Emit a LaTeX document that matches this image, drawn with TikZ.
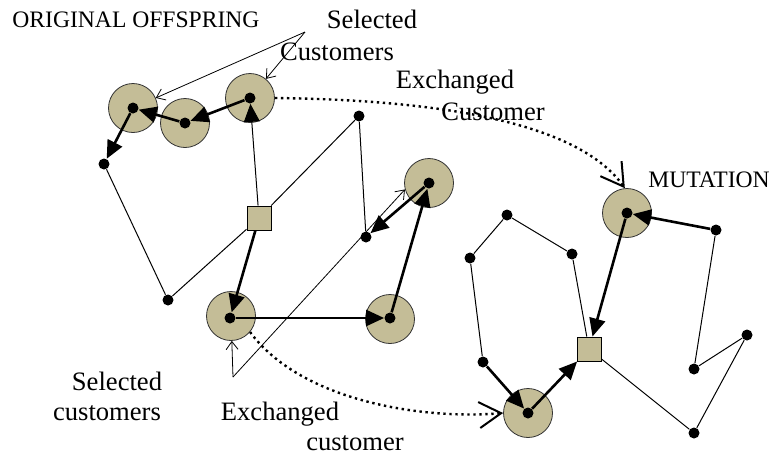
\documentclass[tikz,border=0pt]{standalone}
\usepackage{fontspec}
\setmainfont{Liberation Serif}
\usepackage{tikz}
\usetikzlibrary{arrows.meta}
\usetikzlibrary{positioning}
\tikzset{>=latex}
\definecolor{tan}{RGB}{196,189,151}

\begin{document}
\begin{tikzpicture}[x=0.5pt,y=-0.5pt,
    cust/.style={circle,fill=black,inner sep=0pt,minimum size=5.5pt},
    ring/.style={circle,draw=black!80,fill=tan,line width=0.4pt,minimum size=24.5pt,inner sep=0pt},
    depot/.style={draw,fill=tan,line width=0.5pt,minimum size=12pt,inner sep=0pt},
    link/.style={line width=0.5pt},
    route/.style={line width=1.3pt,-{Triangle[length=9pt,width=8pt]}},
    note/.style={line width=0.4pt,-{Straight Barb[length=4pt,width=6pt]}},
    swap/.style={line width=1.2pt,dash pattern=on 1.2pt off 1.8pt,-{Straight Barb[length=11pt,width=13pt,line width=1pt]}},
    lbl/.style={font=\fontsize{13.3}{16}\selectfont,inner sep=0pt,anchor=base},
    caps/.style={font=\fontsize{11.8}{14}\selectfont,inner sep=0pt,anchor=base west}]
            \useasboundingbox [fill=white] (0,0) rectangle (772,457);
            \node [ring] (c1r) at (133,108) {};
            \node [ring] (c2r) at (185,123) {};
            \node [ring] (c3r) at (250,98) {};
            \node [ring] (c4r) at (429,183) {};
            \node [ring] (c5r) at (231,316) {};
            \node [ring] (c6r) at (390,319) {};
            \node [ring] (m1r) at (627,213) {};
            \node [ring] (m2r) at (528,413) {};
            \node [cust] (c1) at (133,108) {};
            \node [cust] (c2) at (185,123) {};
            \node [cust] (c3) at (250,98) {};
            \node [cust] (c4) at (429,183) {};
            \node [cust] (c5) at (230,318) {};
            \node [cust] (c6) at (390,318) {};
            \node [cust] (d1) at (104,164) {};
            \node [cust] (d2) at (359,116) {};
            \node [cust] (d3) at (168,300) {};
            \node [cust] (d4) at (366,237) {};
            \node [depot] (s1) at (259,218) {};
            \node [cust] (m1) at (627,213) {};
            \node [cust] (m2) at (528,413) {};
            \node [cust] (r1) at (716,230) {};
            \node [cust] (r2) at (747,335) {};
            \node [cust] (r3) at (694,369) {};
            \node [cust] (r4) at (694,433) {};
            \node [cust] (r5) at (483,362) {};
            \node [cust] (r6) at (470,258) {};
            \node [cust] (r7) at (507,215) {};
            \node [cust] (r8) at (572,254) {};
            \node [depot] (s2) at (589,349) {};
            \draw [link] (d1)--(d3)--(s1)--(d2)--(d4);
            \draw [link,-{Triangle[length=9pt,width=8pt]}] (s1)--(c3);
            \draw [route] (c3)--(c2);
            \draw [route] (c2)--(c1);
            \draw [route] (c1)--(d1);
            \draw [route] (s1)--(c5);
            \draw [route] (c5)--(c6);
            \draw [route] (c6)--(c4);
            \draw [route] (c4)--(d4);
            \draw [link] (r5)--(r6)--(r7)--(r8)--(s2)--(r4)--(r2)--(r3)--(r1);
            \draw [route] (r1)--(m1);
            \draw [route] (m1)--(s2);
            \draw [route] (r5)--(m2);
            \draw [route] (m2)--(s2);
            \coordinate (sc) at (305,32);
            \coordinate (ec) at (233,377);
            \draw [note] (sc)--(c1r);
            \draw [note] (sc)--(c3r);
            \draw [note] (ec)--(c5r);
            \draw [note] (ec)--(c4r.195);
            \draw [swap] (c3r.east) .. controls (450,100) and (580,125) .. (m1r.95);
            \draw [swap] (c5r.-40) .. controls (300,400) and (420,420) .. (m2r.west);
            \node [caps] (orig) at (12,27) {ORIGINAL OFFSPRING};
            \node [lbl] (sel) at (372,28) {Selected};
            \node [lbl] (selc) at (337,60) {Customers};
            \node [lbl] (exch) at (455,88) {Exchanged};
            \node [lbl] (exchc) at (493,120) {Customer};
            \node [caps] (mut) at (648,187) {MUTATION};
            \node [lbl] (sel2) at (117,390) {Selected};
            \node [lbl] (sel2c) at (107,420) {customers};
            \node [lbl] (exch2) at (280,420) {Exchanged};
            \node [lbl] (exch2c) at (355,450) {customer};
        \end{tikzpicture}
\end{document}
